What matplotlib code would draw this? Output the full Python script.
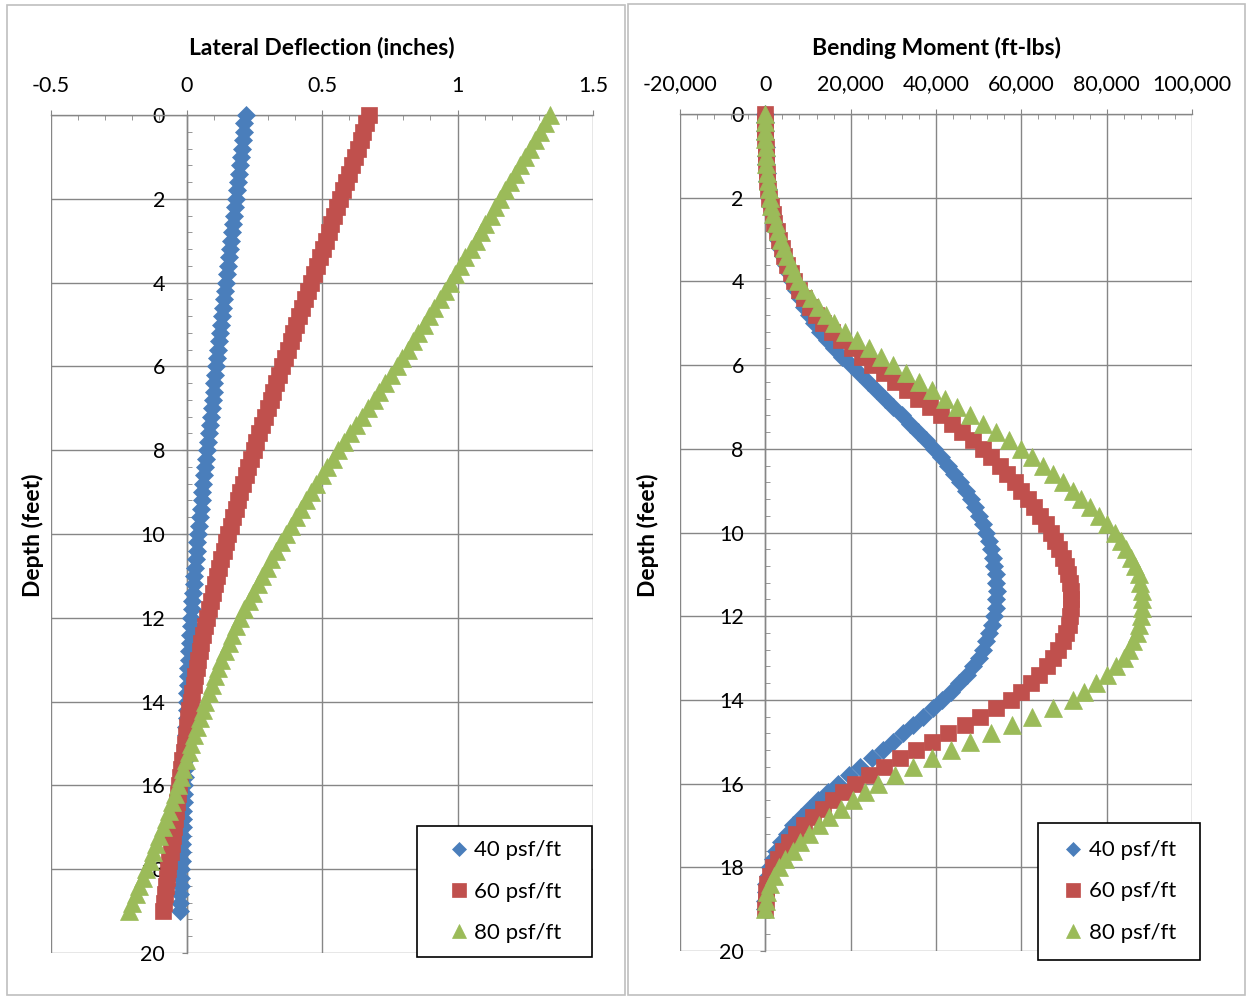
import numpy as np
import matplotlib.pyplot as plt
from matplotlib.patches import Rectangle
from matplotlib.ticker import MultipleLocator

plt.rcParams['font.family'] = ['Lato', 'DejaVu Sans']

# depth below top of pile, every 0.2 ft
depth = np.round(np.arange(0, 19.01, 0.2), 1)

series_names = ['40 psf/ft', '60 psf/ft', '80 psf/ft']

# lateral deflection (inches)
defl_40 = [0.218, 0.214, 0.211, 0.207, 0.204,
           0.200, 0.196, 0.193, 0.189, 0.186,
           0.182, 0.178, 0.175, 0.171, 0.168,
           0.164, 0.160, 0.157, 0.153, 0.150,
           0.146, 0.142, 0.139, 0.135, 0.132,
           0.128, 0.124, 0.121, 0.117, 0.114,
           0.110, 0.107, 0.103, 0.100, 0.096,
           0.093, 0.090, 0.086, 0.083, 0.079,
           0.076, 0.073, 0.069, 0.066, 0.062,
           0.059, 0.056, 0.053, 0.049, 0.046,
           0.043, 0.040, 0.037, 0.035, 0.032,
           0.029, 0.027, 0.024, 0.022, 0.019,
           0.017, 0.015, 0.013, 0.012, 0.010,
           0.008, 0.007, 0.006, 0.004, 0.003,
           0.002, 0.001, 0.000, -0.001, -0.002,
           -0.003, -0.004, -0.005, -0.006, -0.007,
           -0.008, -0.009, -0.010, -0.012, -0.013,
           -0.014, -0.015, -0.016, -0.017, -0.018,
           -0.019, -0.020, -0.021, -0.023, -0.024,
           -0.025]
defl_60 = [0.675, 0.664, 0.653, 0.643, 0.632,
           0.621, 0.610, 0.599, 0.589, 0.578,
           0.567, 0.556, 0.545, 0.535, 0.524,
           0.513, 0.502, 0.491, 0.481, 0.470,
           0.459, 0.448, 0.437, 0.427, 0.416,
           0.405, 0.394, 0.384, 0.373, 0.363,
           0.352, 0.341, 0.331, 0.320, 0.310,
           0.299, 0.289, 0.279, 0.268, 0.258,
           0.248, 0.238, 0.228, 0.219, 0.209,
           0.199, 0.190, 0.181, 0.172, 0.163,
           0.154, 0.146, 0.137, 0.129, 0.120,
           0.112, 0.104, 0.097, 0.089, 0.082,
           0.074, 0.068, 0.061, 0.055, 0.048,
           0.042, 0.037, 0.031, 0.026, 0.020,
           0.015, 0.011, 0.006, 0.002, -0.003,
           -0.007, -0.011, -0.015, -0.019, -0.023,
           -0.027, -0.031, -0.035, -0.039, -0.043,
           -0.047, -0.051, -0.055, -0.059, -0.063,
           -0.067, -0.071, -0.075, -0.079, -0.083,
           -0.087]
defl_80 = [1.340, 1.322, 1.304, 1.285, 1.267,
           1.249, 1.231, 1.213, 1.194, 1.176,
           1.158, 1.140, 1.122, 1.103, 1.085,
           1.067, 1.048, 1.029, 1.011, 0.992,
           0.973, 0.954, 0.934, 0.915, 0.895,
           0.876, 0.856, 0.836, 0.816, 0.796,
           0.776, 0.755, 0.734, 0.712, 0.691,
           0.670, 0.648, 0.626, 0.604, 0.582,
           0.560, 0.540, 0.519, 0.499, 0.478,
           0.458, 0.440, 0.421, 0.403, 0.384,
           0.366, 0.348, 0.331, 0.313, 0.296,
           0.278, 0.262, 0.246, 0.229, 0.213,
           0.197, 0.183, 0.169, 0.156, 0.142,
           0.128, 0.116, 0.105, 0.093, 0.082,
           0.070, 0.060, 0.049, 0.039, 0.028,
           0.018, 0.008, -0.002, -0.012, -0.022,
           -0.032, -0.043, -0.054, -0.066, -0.077,
           -0.088, -0.100, -0.112, -0.124, -0.136,
           -0.148, -0.161, -0.174, -0.188, -0.201,
           -0.214]

# bending moment (ft-lbs)
moment_40 = [0, 0, 10, 30, 80,
             150, 230, 330, 460, 650,
             900, 1200, 1550, 1950, 2400,
             2900, 3450, 4050, 4750, 5500,
             6300, 7150, 8050, 9050, 10150,
             11300, 12800, 14400, 16100, 18000,
             20000, 22000, 24000, 26000, 28000,
             30000, 31950, 33900, 35800, 37650,
             39500, 41100, 42700, 44200, 45600,
             47000, 48100, 49100, 50000, 50900,
             51800, 52400, 52900, 53300, 53700,
             54000, 54150, 54200, 54150, 53950,
             53600, 53100, 52500, 51800, 50950,
             50000, 48700, 47200, 45500, 43500,
             41400, 39200, 36900, 34600, 32300,
             30000, 27500, 24900, 22300, 19700,
             17100, 14700, 12400, 10300, 8300,
             6500, 5000, 3700, 2600, 1700,
             1000, 550, 250, 90, 20,
             0]
moment_60 = [0, 0, 10, 30, 80,
             150, 240, 350, 490, 690,
             950, 1280, 1680, 2130, 2640,
             3200, 3800, 4450, 5150, 5950,
             6800, 7900, 9100, 10400, 11900,
             13500, 15600, 17800, 20200, 22600,
             25000, 27700, 30400, 33100, 35800,
             38500, 41100, 43700, 46200, 48600,
             51000, 53000, 54900, 56700, 58400,
             60000, 61500, 62900, 64300, 65700,
             67000, 68000, 68900, 69700, 70400,
             71000, 71400, 71650, 71750, 71700,
             71500, 71100, 70500, 69700, 68700,
             67500, 66000, 64200, 62200, 59900,
             57500, 54000, 50400, 46700, 42900,
             39000, 35200, 31500, 27900, 24400,
             21000, 18300, 15800, 13400, 11100,
             9000, 7200, 5600, 4200, 2900,
             1800, 1000, 450, 150, 40,
             0]
moment_80 = [0, 0, 10, 30, 80,
             150, 250, 380, 550, 750,
             1000, 1400, 1900, 2450, 3000,
             3600, 4300, 5050, 5900, 6800,
             7700, 9100, 10700, 12400, 14200,
             16000, 18600, 21400, 24300, 27200,
             30000, 33000, 36000, 39000, 42000,
             45000, 48000, 51000, 54000, 57000,
             60000, 62500, 65000, 67500, 69800,
             72000, 74100, 76200, 78200, 80100,
             82000, 83300, 84500, 85600, 86600,
             87500, 87900, 88200, 88300, 88200,
             88000, 87600, 87000, 86200, 85200,
             84000, 82200, 80000, 77500, 74800,
             72000, 67400, 62600, 57800, 52900,
             48000, 43500, 39000, 34700, 30500,
             26500, 23400, 20500, 17700, 15000,
             12500, 10300, 8200, 6400, 4700,
             3200, 2000, 1000, 400, 100,
             0]

defl_ticks = [-0.5, 0, 0.5, 1, 1.5]
defl_labels = ['-0.5', '0', '0.5', '1', '1.5']
moment_ticks = [-20000, 0, 20000, 40000, 60000, 80000, 100000]
moment_labels = ['-20,000', '0', '20,000', '40,000', '60,000', '80,000', '100,000']
depth_ticks = list(range(0, 21, 2))

colors = ['#4A7EBB', '#C0504D', '#9BBB59']
markers = [('D', 9.3), ('s', 12), ('^', 13)]
gray = '#868686'

W, H = 1247, 997
fig = plt.figure(figsize=(W / 100, H / 100), dpi=100)

# chart borders
for x0, y0, x1, y1 in [(7, 5, 625, 995), (628, 4, 1245, 995)]:
    fig.patches.append(Rectangle((x0 / W, 1 - y1 / H), (x1 - x0) / W, (y1 - y0) / H,
                                 transform=fig.transFigure, fill=False,
                                 ec='#BFBFBF', lw=1.2))

ax1 = fig.add_axes([51 / W, 1 - 953 / H, 542 / W, 838 / H])
ax2 = fig.add_axes([680 / W, 1 - 951 / H, 512 / W, 837 / H])


def style(ax, ticks, labels, minor, title, cx):
    ax.set_xlim(ticks[0], ticks[-1])
    ax.set_ylim(20, 0)
    ax.set_xticks(ticks)
    ax.set_xticklabels(labels)
    ax.xaxis.set_minor_locator(MultipleLocator(minor))
    ax.set_yticks(depth_ticks)
    ax.yaxis.set_minor_locator(MultipleLocator(0.4))
    ax.xaxis.tick_top()
    ax.grid(True, which='major', color=gray, lw=1)
    ax.set_axisbelow(True)
    for s in ['right', 'bottom']:
        ax.spines[s].set_visible(False)
    ax.spines['left'].set_position(('data', 0))
    for s in ['top', 'left']:
        ax.spines[s].set_color(gray)
        ax.spines[s].set_linewidth(1)
    ax.tick_params(which='major', direction='out', length=3.5, color=gray,
                   labelsize=15.5, pad=10.5)
    ax.tick_params(axis='y', which='major', pad=12)
    ax.tick_params(which='minor', direction='in', length=3.5, color=gray)
    fig.text(cx, 1 - 48 / H, title, ha='center', va='center',
             fontsize=16.5, fontweight='bold')


style(ax1, defl_ticks, defl_labels, 0.1, 'Lateral Deflection (inches)', 322 / W)
style(ax2, moment_ticks, moment_labels, 4000, 'Bending Moment (ft-lbs)', 936 / W)
fig.text(33 / W, 1 - 535 / H, 'Depth (feet)', rotation=90, ha='center',
         va='center', fontsize=16.5, fontweight='bold')
fig.text(648 / W, 1 - 535 / H, 'Depth (feet)', rotation=90, ha='center',
         va='center', fontsize=16.5, fontweight='bold')

for ax, data in [(ax1, [defl_40, defl_60, defl_80]),
                 (ax2, [moment_40, moment_60, moment_80])]:
    for vals, name, c, (m, ms) in zip(data, series_names, colors, markers):
        ax.plot(vals, depth, ls='none', marker=m, ms=ms, color=c,
                mec=c, mew=0.5, label=name, clip_on=False, zorder=3)

# legend boxes (axes coords)
for ax, box in [(ax1, (0.675, -0.005, 0.998, 0.1516)),
                (ax2, (0.699, -0.0108, 1.0156, 0.153))]:
    x0, y0, x1, y1 = box
    ax.add_patch(Rectangle((x0, y0), x1 - x0, y1 - y0, transform=ax.transAxes,
                           fc='white', ec='black', lw=1.2, clip_on=False, zorder=5))
    leg = ax.legend(loc='center', bbox_to_anchor=((x0 + x1) / 2, (y0 + y1) / 2),
                    frameon=False, fontsize=16, handlelength=1.0, markerscale=0.8,
                    handletextpad=0.2, labelspacing=0.95, borderpad=0)
    leg.set_zorder(6)

fig.savefig('out.png', dpi=100)
